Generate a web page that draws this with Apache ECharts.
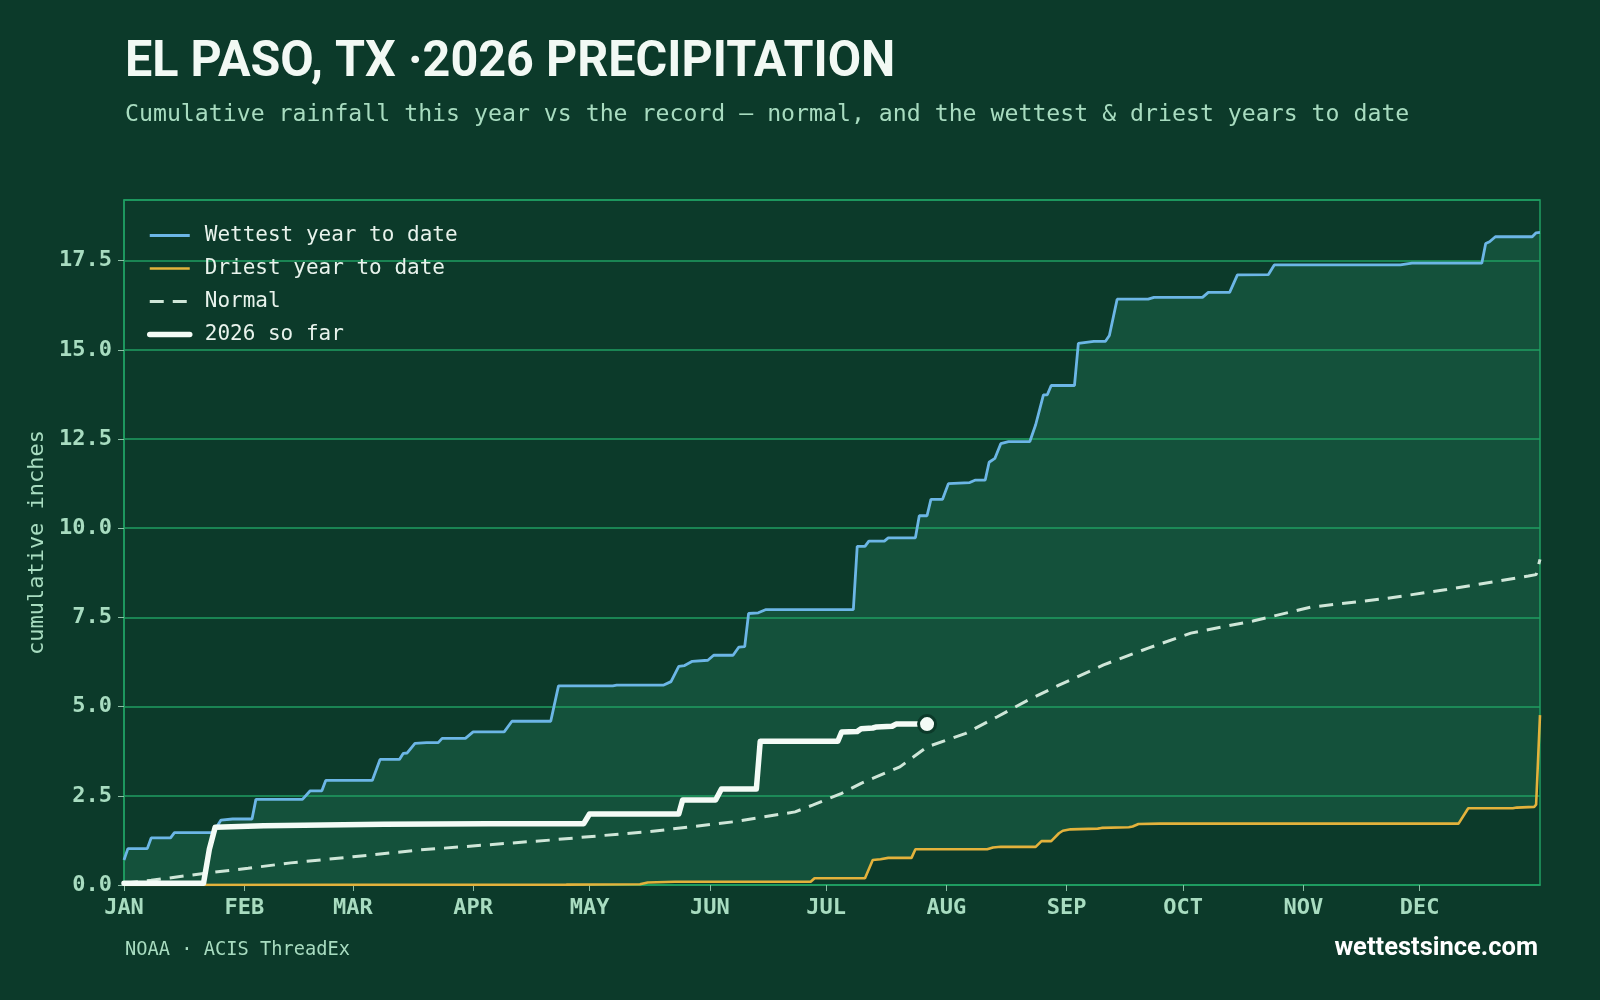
<!DOCTYPE html>
<html>
<head>
<meta charset="utf-8">
<title>El Paso, TX 2026 precipitation</title>
<script src="https://cdn.jsdelivr.net/npm/echarts@6/dist/echarts.min.js"></script>
<style>
  html, body { margin: 0; padding: 0; background: #0c3a2a; }
  #chart { width: 1600px; height: 1000px; }
</style>
</head>
<body>
<div id="chart"></div>
<script>
// [day of year (0 = Jan 1), cumulative inches]
const wettest = [
  [0, 0.70], [1, 1.02], [6, 1.02], [7, 1.32], [12, 1.32], [13, 1.47], [23, 1.47], [25, 1.82],
  [28, 1.85], [33, 1.85], [34, 2.40], [46, 2.40], [48, 2.64], [51, 2.64], [52, 2.93], [64, 2.93],
  [66, 3.52], [71, 3.52], [72, 3.69], [73, 3.70], [75, 3.97], [78, 3.99], [81, 3.99], [82, 4.11],
  [88, 4.11], [90, 4.29], [98, 4.29], [100, 4.59], [110, 4.59], [112, 5.58], [126, 5.58], [127, 5.60],
  [139, 5.60], [141, 5.70], [143, 6.13], [144.5, 6.15], [146.5, 6.27], [150.5, 6.30], [152, 6.44],
  [157, 6.44], [158.5, 6.67], [160, 6.68], [161, 7.61], [163.5, 7.63], [165.5, 7.72], [188, 7.72],
  [189, 9.49], [191, 9.49], [192, 9.64], [196, 9.64], [197, 9.73], [204, 9.73], [205, 10.35],
  [207, 10.35], [208, 10.81], [211, 10.81], [212.5, 11.25], [218, 11.28], [219.5, 11.35], [222, 11.35],
  [223, 11.85], [224.5, 11.96], [226, 12.37], [228, 12.43], [233.5, 12.43], [235, 12.90], [237, 13.74],
  [238, 13.74], [239, 14.00], [245, 14.00], [246, 15.18], [250, 15.24], [253, 15.24], [254, 15.40],
  [256, 16.42], [264, 16.42], [265.5, 16.47], [278, 16.47], [279.5, 16.61], [285, 16.61], [287, 17.10],
  [295, 17.11], [296.5, 17.38], [329, 17.38], [332, 17.43], [350, 17.43], [351, 17.98], [352, 18.03],
  [353.5, 18.17], [363, 18.17], [364, 18.28], [365, 18.29]
];

const driest = [
  [0, 0.00], [114, 0.01], [133, 0.02], [135, 0.07], [142, 0.09], [177, 0.09], [178, 0.19], [191, 0.19],
  [193, 0.70], [195, 0.72], [197, 0.76], [203, 0.76], [204, 1.00], [222.5, 1.00], [224, 1.05], [226, 1.07],
  [235, 1.07], [236.5, 1.23], [239, 1.23], [241, 1.45], [242, 1.52], [244, 1.56], [251, 1.58], [252, 1.60],
  [259, 1.62], [260, 1.64], [261.5, 1.71], [267, 1.72], [344, 1.72], [346.5, 2.15], [358, 2.15],
  [359, 2.17], [363.5, 2.19], [364, 2.25], [365, 4.76]
];

const normal = [
  [0, 0.05], [7, 0.13], [21, 0.33], [32, 0.47], [43, 0.62], [59, 0.79], [76, 0.98], [93, 1.12],
  [110, 1.26], [128, 1.43], [135, 1.49], [157, 1.77], [173, 2.05], [177.5, 2.24], [185, 2.57],
  [190, 2.85], [200, 3.31], [207, 3.87], [217, 4.25], [225, 4.71], [233, 5.18], [241, 5.60],
  [252.5, 6.17], [264, 6.64], [275, 7.06], [291, 7.40], [306, 7.79], [324.5, 8.02], [341, 8.28],
  [362, 8.66], [364, 8.70], [365, 9.13]
];

const thisYear = [
  [0, 0.05], [20.5, 0.05], [22, 1.00], [23.5, 1.62], [36, 1.66], [67, 1.70], [94, 1.72], [118.5, 1.72],
  [120, 1.99], [143, 1.99], [144, 2.38], [152.5, 2.38], [154, 2.69], [163, 2.69], [164, 4.03],
  [184, 4.03], [185, 4.29], [189, 4.30], [190, 4.38], [193, 4.40], [194, 4.43], [198, 4.45],
  [199, 4.51], [207, 4.51]
];

const monthStarts = [0, 31, 59, 90, 120, 151, 181, 212, 243, 273, 304, 334];
const monthLabels = ['JAN', 'FEB', 'MAR', 'APR', 'MAY', 'JUN', 'JUL', 'AUG', 'SEP', 'OCT', 'NOV', 'DEC'];

const BG = '#0c3a2a';
const BAND = '#14513b';
const GRID = '#1f9e62';
const TICK = '#8dbfa6';
const LABEL = '#a8dcc0';
const MONO = '"DejaVu Sans Mono", monospace';

const chart = echarts.init(document.getElementById('chart'), null, { renderer: 'canvas' });

const lastPoint = thisYear[thisYear.length - 1];

chart.setOption({
  backgroundColor: BG,
  animation: false,
  grid: {
    left: 124, right: 60, top: 200, bottom: 115,
    show: true, borderColor: GRID, borderWidth: 1.5, backgroundColor: 'transparent',
    z: 3
  },
  legend: {
    data: ['Wettest year to date', 'Driest year to date', 'Normal', '2026 so far'],
    orient: 'vertical',
    left: 142, top: 220,
    itemWidth: 40, itemHeight: 14, itemGap: 12,
    selectedMode: false,
    itemStyle: { opacity: 0 },            // line only, no marker in the key
    lineStyle: { width: 'inherit' },
    textStyle: { color: '#e8f3ec', fontFamily: MONO, fontSize: 21, padding: [0, 0, 0, 10] }
  },
  xAxis: {
    type: 'value', min: 0, max: 365, z: 3,
    axisLine: { show: true, lineStyle: { color: GRID, width: 1.5 } },
    axisTick: { show: true, customValues: monthStarts, length: 6, lineStyle: { color: TICK } },
    axisLabel: {
      customValues: monthStarts,
      formatter: v => monthLabels[monthStarts.indexOf(v)],
      color: LABEL, fontFamily: MONO, fontWeight: 'bold', fontSize: 22, margin: 12
    },
    splitLine: { show: false }
  },
  yAxis: {
    type: 'value', min: 0, max: 19.2, interval: 2.5, z: 3,
    name: 'cumulative inches', nameLocation: 'middle', nameGap: 72,
    nameTextStyle: { color: LABEL, fontFamily: MONO, fontSize: 22 },
    axisLine: { show: true, lineStyle: { color: GRID, width: 1.5 } },
    axisTick: { show: true, length: 6, lineStyle: { color: TICK } },
    axisLabel: {
      formatter: v => v.toFixed(1), showMaxLabel: false,
      color: LABEL, fontFamily: MONO, fontWeight: 'bold', fontSize: 22, margin: 12
    },
    splitLine: { show: true, lineStyle: { color: GRID, width: 1.5 } }
  },
  series: [
    { // band between record years: fill under wettest, then mask under driest
      name: 'band', type: 'line', data: wettest, symbol: 'none', silent: true, z: 1,
      lineStyle: { width: 0 }, areaStyle: { color: BAND, opacity: 1 }
    },
    {
      name: 'mask', type: 'line', data: driest, symbol: 'none', silent: true, z: 2,
      lineStyle: { width: 0 }, areaStyle: { color: BG, opacity: 1 }
    },
    {
      name: 'Wettest year to date', type: 'line', data: wettest, symbol: 'none', z: 5,
      lineStyle: { color: '#6cb6e6', width: 2.8 }, itemStyle: { color: '#6cb6e6' }
    },
    {
      name: 'Driest year to date', type: 'line', data: driest, symbol: 'none', z: 5,
      lineStyle: { color: '#e3b23c', width: 2.6 }, itemStyle: { color: '#e3b23c' }
    },
    {
      name: 'Normal', type: 'line', data: normal, symbol: 'none', z: 6,
      lineStyle: { color: '#cfe6d8', width: 3, type: [14, 9] }, itemStyle: { color: '#cfe6d8' }
    },
    {
      name: '2026 so far', type: 'line', data: thisYear, symbol: 'none', z: 7,
      lineStyle: { color: '#f4fbf6', width: 5.5, cap: 'round', join: 'round' },
      itemStyle: { color: '#f4fbf6' }
    },
    {
      name: 'latest', type: 'scatter', data: [lastPoint], z: 8, silent: true,
      symbolSize: 17,
      itemStyle: { color: '#f4fbf6', borderColor: BG, borderWidth: 3, opacity: 1 }
    }
  ],
  graphic: [
    {
      type: 'text', x: 125, y: 38, scaleX: 0.97,
      style: {
        text: 'EL PASO, TX ·2026 PRECIPITATION',
        fill: '#f2f9f4', font: 'bold 50px Roboto, "Noto Sans", sans-serif'
      }
    },
    {
      type: 'text', left: 125, top: 103,
      style: {
        text: 'Cumulative rainfall this year vs the record — normal, and the wettest & driest years to date',
        fill: LABEL, font: '23.2px "DejaVu Sans Mono", monospace'
      }
    },
    {
      type: 'text', left: 125, top: 941,
      style: { text: 'NOAA · ACIS ThreadEx', fill: LABEL, font: '18.7px "DejaVu Sans Mono", monospace' }
    },
    {
      type: 'text', right: 62, top: 936,
      style: { text: 'wettestsince.com', fill: '#ffffff', font: 'bold 25.5px Roboto, "Noto Sans", sans-serif' }
    }
  ]
});
</script>
</body>
</html>
